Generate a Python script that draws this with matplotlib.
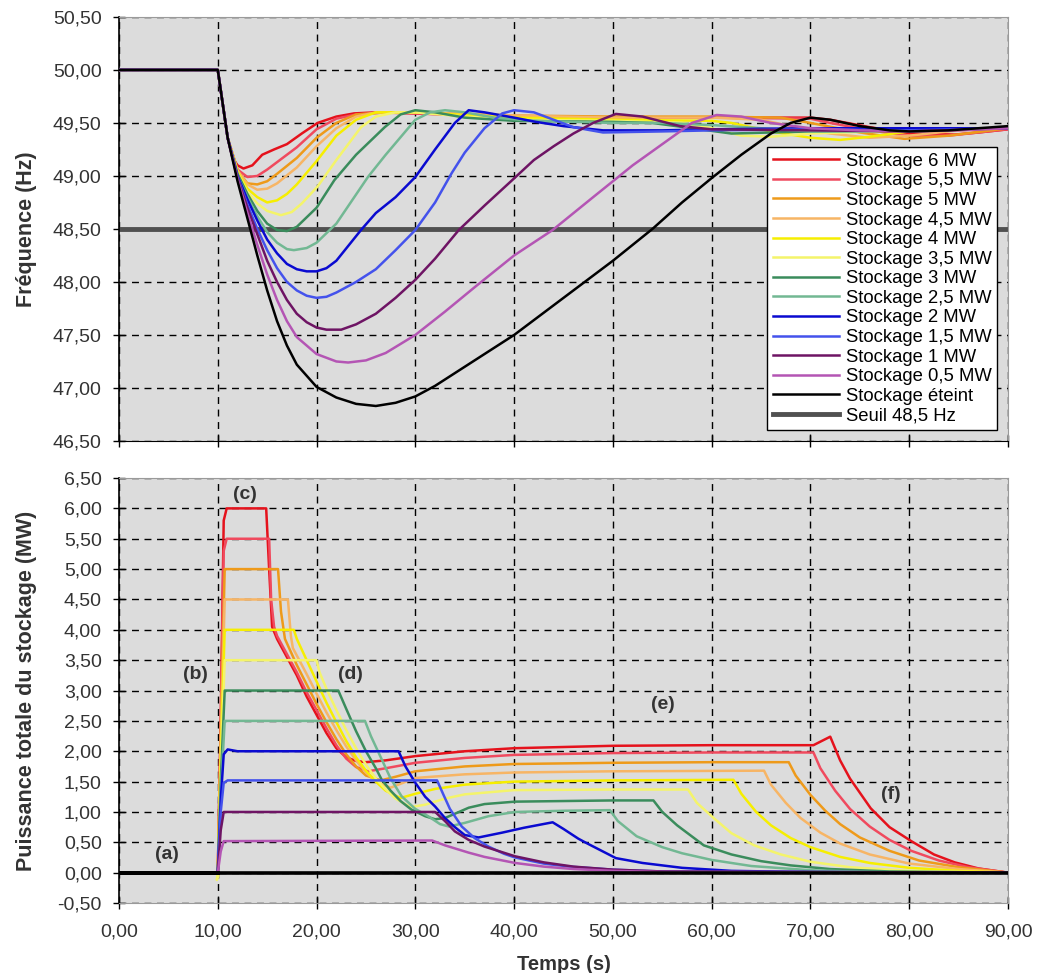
import matplotlib
matplotlib.use("Agg")
import matplotlib.pyplot as plt
from matplotlib.ticker import FuncFormatter, MultipleLocator

plt.rcParams['font.family'] = ['Liberation Sans', 'DejaVu Sans']

# ---- legend labels and colours ----
labels = ["Stockage 6 MW", "Stockage 5,5 MW", "Stockage 5 MW", "Stockage 4,5 MW",
          "Stockage 4 MW", "Stockage 3,5 MW", "Stockage 3 MW", "Stockage 2,5 MW",
          "Stockage 2 MW", "Stockage 1,5 MW", "Stockage 1 MW", "Stockage 0,5 MW",
          "Stockage éteint"]
colors = ["#e5121c", "#f04a5e", "#ee9a1a", "#f7b565", "#f6ee00", "#f4f46a",
          "#3a8c5c", "#72b893", "#0a0ad0", "#4452ec", "#6e1464", "#b455b4", "#000000"]
threshold = 48.5

# ---- frequency (Hz), time points per series ----
t_start = [0, 10, 11]
f_start = [50.0, 50.0, 49.36]

ft_6 = [11.5, 12, 12.6, 13.5, 14.5, 15.7, 17, 18.5, 20.1, 22, 23.8, 26, 30, 40, 50, 60, 70, 72, 76, 80, 84.6, 87, 90]
fv_6 = [49.17, 49.1, 49.07, 49.1, 49.2, 49.25, 49.3, 49.4, 49.5, 49.56, 49.59, 49.6, 49.59, 49.56, 49.55, 49.55, 49.55, 49.53, 49.46, 49.4, 49.39, 49.41, 49.44]
ft_55 = [12, 13, 14, 15, 16, 18, 20, 22, 24, 27, 30, 40, 50, 60, 70, 72, 76, 80, 84, 90]
fv_55 = [49.06, 48.99, 49.0, 49.06, 49.13, 49.27, 49.44, 49.54, 49.58, 49.6, 49.59, 49.56, 49.55, 49.55, 49.54, 49.5, 49.43, 49.38, 49.38, 49.44]
ft_5 = [12, 13, 14, 15, 16, 18, 20, 22, 24, 27, 30, 40, 50, 60, 67, 70, 75, 79.5, 84, 90]
fv_5 = [49.05, 48.93, 48.92, 48.95, 49.02, 49.17, 49.36, 49.5, 49.58, 49.6, 49.6, 49.57, 49.56, 49.56, 49.55, 49.5, 49.41, 49.35, 49.38, 49.45]
ft_45 = [12, 13, 14, 15, 16, 18, 20, 22, 24, 26, 30, 40, 50, 60, 65, 68, 72, 76, 80, 85, 90]
fv_45 = [49.05, 48.92, 48.87, 48.88, 48.93, 49.08, 49.28, 49.45, 49.56, 49.6, 49.6, 49.57, 49.55, 49.55, 49.53, 49.47, 49.4, 49.36, 49.38, 49.43, 49.45]
ft_4 = [12, 13, 14, 15, 16, 17, 18, 20, 22, 24, 26, 30, 40, 50, 60, 62, 66, 70, 73, 76, 80, 90]
fv_4 = [49.04, 48.88, 48.8, 48.75, 48.77, 48.83, 48.92, 49.14, 49.38, 49.53, 49.6, 49.6, 49.55, 49.53, 49.52, 49.5, 49.42, 49.36, 49.34, 49.37, 49.42, 49.45]
ft_35 = [12, 13, 14, 15, 16.4, 17.5, 18.5, 20.1, 22, 24.5, 26, 28, 30, 35, 40, 50, 57, 60, 63, 66, 70, 80, 90]
fv_35 = [49.03, 48.85, 48.74, 48.67, 48.63, 48.66, 48.74, 48.9, 49.15, 49.46, 49.56, 49.6, 49.6, 49.56, 49.53, 49.52, 49.5, 49.45, 49.38, 49.37, 49.4, 49.43, 49.45]
ft_3 = [12, 13, 14, 15, 16, 17, 18, 20, 21.8, 24, 26.9, 28.5, 30, 32, 35, 40, 50, 54, 58, 62, 70, 80, 90]
fv_3 = [49.02, 48.83, 48.67, 48.55, 48.49, 48.48, 48.52, 48.7, 48.96, 49.2, 49.46, 49.58, 49.62, 49.6, 49.55, 49.52, 49.51, 49.5, 49.45, 49.4, 49.42, 49.43, 49.45]
ft_25 = [12, 13, 14, 15, 16, 17, 17.7, 19, 20, 22, 25.2, 27, 29, 30, 31.5, 33, 35, 38, 42, 50, 55, 60, 65, 70, 75, 80, 90]
fv_25 = [49.0, 48.8, 48.62, 48.47, 48.37, 48.31, 48.3, 48.32, 48.37, 48.55, 48.99, 49.2, 49.42, 49.53, 49.6, 49.62, 49.6, 49.55, 49.52, 49.5, 49.5, 49.48, 49.45, 49.42, 49.42, 49.43, 49.45]
ft_2 = [12, 13, 14, 15, 16, 17, 18, 19, 20, 21, 22, 24.5, 26, 28, 30, 32, 34, 35.4, 37, 40, 42.2, 45, 49, 55, 60, 70, 80, 90]
fv_2 = [49.0, 48.78, 48.58, 48.4, 48.27, 48.17, 48.12, 48.1, 48.1, 48.13, 48.2, 48.49, 48.65, 48.8, 48.99, 49.25, 49.5, 49.62, 49.6, 49.55, 49.51, 49.47, 49.43, 49.43, 49.44, 49.45, 49.45, 49.45]
ft_15 = [12, 13, 14, 15, 16, 17, 18, 19, 20, 21, 22, 24, 26, 28, 30, 32, 33.7, 35, 37, 38.8, 40, 42, 44, 46, 49, 55, 60, 70, 80, 90]
fv_15 = [48.99, 48.73, 48.5, 48.3, 48.13, 48.0, 47.92, 47.87, 47.85, 47.86, 47.9, 48.0, 48.12, 48.3, 48.49, 48.75, 49.03, 49.22, 49.45, 49.59, 49.62, 49.6, 49.53, 49.46, 49.41, 49.42, 49.43, 49.44, 49.43, 49.45]
ft_1 = [12, 13, 14, 15, 16, 17, 18, 19, 20, 21, 22.5, 24, 26, 28, 30, 32, 34.4, 37, 39.8, 42, 44, 46, 48, 50.3, 53, 56.8, 60, 70, 80, 90]
fv_1 = [48.98, 48.7, 48.45, 48.2, 48.0, 47.83, 47.7, 47.62, 47.57, 47.55, 47.55, 47.6, 47.7, 47.85, 48.02, 48.22, 48.49, 48.72, 48.96, 49.15, 49.28, 49.4, 49.5, 49.585, 49.56, 49.47, 49.44, 49.43, 49.42, 49.45]
ft_05 = [12, 13, 14, 15, 16, 17, 18, 20, 22, 23.2, 25, 27, 30, 33, 36, 40, 43.9, 48, 52, 55, 58, 60.5, 63, 66, 70, 75, 80, 85, 90]
fv_05 = [48.97, 48.65, 48.35, 48.07, 47.83, 47.63, 47.48, 47.32, 47.25, 47.24, 47.26, 47.33, 47.5, 47.72, 47.95, 48.25, 48.49, 48.8, 49.1, 49.3, 49.5, 49.575, 49.56, 49.5, 49.45, 49.43, 49.42, 49.43, 49.45]
ft_off = [12, 13, 14, 15, 16, 17, 18, 20, 22, 24, 26, 28, 30, 32, 35, 40, 45, 50, 54, 57, 60, 63, 66, 68, 70, 72, 75, 78, 80, 84, 87, 90]
fv_off = [48.95, 48.6, 48.25, 47.92, 47.63, 47.4, 47.22, 47.01, 46.91, 46.85, 46.83, 46.86, 46.92, 47.02, 47.2, 47.5, 47.85, 48.2, 48.5, 48.75, 48.98, 49.2, 49.4, 49.5, 49.55, 49.53, 49.47, 49.43, 49.42, 49.43, 49.45, 49.47]

# ---- storage power (MW) ----
p_start_t = [0, 10]
p_start_v = [0.0, 0.0]

pt_6 = [10.3, 10.6, 10.9, 14.9, 15.2, 15.5, 16, 17, 18, 19, 20, 21, 22, 23, 24, 25, 27, 30, 35, 40, 50, 60, 70.3, 72, 73, 74, 76.1, 78, 80.2, 82.5, 84.6, 87, 90]
pv_6 = [2.5, 5.8, 6.0, 6.0, 5.0, 4.05, 3.85, 3.55, 3.25, 2.9, 2.6, 2.3, 2.05, 1.9, 1.84, 1.82, 1.85, 1.92, 2.0, 2.05, 2.09, 2.1, 2.1, 2.24, 1.85, 1.55, 1.06, 0.75, 0.52, 0.3, 0.17, 0.07, 0.0]
pt_55 = [10.3, 10.6, 10.9, 15.2, 15.4, 15.7, 16, 17, 18, 19, 20, 21, 22, 23, 24, 25.2, 27, 30, 35, 40, 50, 60, 70.3, 71, 72.5, 74, 76, 78, 80.2, 83, 86, 90]
pv_55 = [2.5, 5.3, 5.5, 5.5, 4.5, 4.05, 3.9, 3.6, 3.3, 2.97, 2.68, 2.38, 2.1, 1.88, 1.74, 1.67, 1.72, 1.81, 1.89, 1.94, 1.97, 1.98, 1.98, 1.72, 1.35, 1.05, 0.76, 0.54, 0.36, 0.2, 0.09, 0.0]
pt_5 = [10.3, 10.7, 16.1, 16.4, 16.8, 18, 19, 20, 21, 22, 23, 24, 25, 26.5, 28, 30, 35, 40, 50, 60, 67.8, 68.5, 70, 71.5, 73, 75, 78, 81, 85, 90]
pv_5 = [2.3, 5.0, 5.0, 4.3, 3.85, 3.42, 3.1, 2.78, 2.48, 2.2, 1.95, 1.75, 1.6, 1.52, 1.58, 1.67, 1.75, 1.79, 1.81, 1.82, 1.82, 1.6, 1.28, 1.02, 0.8, 0.58, 0.36, 0.2, 0.09, 0.0]
pt_45 = [10.3, 10.7, 17.1, 17.4, 17.6, 19, 20, 21, 22, 23, 24, 25, 26, 27.5, 30, 35, 40, 50, 65.3, 66, 67.5, 69, 71, 73, 76, 80, 85, 90]
pv_45 = [2.1, 4.5, 4.5, 3.9, 3.7, 3.27, 2.95, 2.64, 2.35, 2.08, 1.85, 1.65, 1.5, 1.4, 1.56, 1.62, 1.65, 1.67, 1.68, 1.45, 1.15, 0.9, 0.66, 0.48, 0.3, 0.15, 0.06, 0.0]
pt_4 = [10.3, 10.7, 17.7, 18, 19, 20, 21, 22, 23, 24, 25, 26, 27, 28.5, 30, 32, 35, 40, 50, 62.2, 63, 64.5, 66, 68, 70, 73, 76, 80, 85, 90]
pv_4 = [1.9, 4.0, 4.0, 3.85, 3.5, 3.15, 2.8, 2.48, 2.17, 1.9, 1.68, 1.5, 1.35, 1.23, 1.3, 1.38, 1.45, 1.5, 1.52, 1.53, 1.3, 1.0, 0.78, 0.57, 0.42, 0.26, 0.16, 0.08, 0.03, 0.0]
pt_35 = [9.9, 10.05, 10.3, 10.7, 20.0, 20.3, 21, 22, 23, 24, 25, 26, 27, 28, 29.5, 31, 33, 35, 40, 50, 57.6, 58.5, 60.2, 62, 64.3, 67, 70, 74, 80, 90]
pv_35 = [-0.12, -0.05, 1.7, 3.5, 3.5, 3.3, 3.03, 2.68, 2.35, 2.05, 1.78, 1.55, 1.37, 1.22, 1.08, 1.12, 1.22, 1.29, 1.36, 1.37, 1.37, 1.15, 0.9, 0.65, 0.45, 0.3, 0.18, 0.09, 0.03, 0.0]
pt_3 = [10.3, 10.7, 22.2, 23, 24, 25, 26, 26.6, 27.5, 28.5, 29.6, 31, 32, 33, 35.4, 37, 40.1, 50, 54.1, 55, 56.5, 59.2, 62, 65, 68, 72, 78, 90]
pv_3 = [1.5, 3.0, 3.0, 2.7, 2.33, 2.0, 1.72, 1.53, 1.35, 1.18, 1.04, 0.93, 0.88, 0.9, 1.07, 1.13, 1.17, 1.19, 1.19, 1.0, 0.78, 0.45, 0.3, 0.19, 0.12, 0.06, 0.02, 0.0]
pt_25 = [10.3, 10.7, 24.9, 25.5, 26.5, 27.5, 28.6, 30, 31.3, 32.5, 33.4, 35, 37.4, 40.1, 45, 49.7, 50.5, 52.4, 55, 57, 60, 64, 70, 76, 90]
pv_25 = [1.3, 2.5, 2.5, 2.25, 1.9, 1.55, 1.26, 1.05, 0.93, 0.8, 0.76, 0.82, 0.93, 1.0, 1.02, 1.03, 0.85, 0.6, 0.42, 0.32, 0.21, 0.11, 0.04, 0.01, 0.0]
pt_2 = [10.3, 10.6, 11, 12, 28.3, 29, 30, 31, 32, 33, 34, 35, 36.4, 38.8, 41, 43.9, 45, 46.5, 47.3, 50.3, 53, 57, 62, 70, 90]
pv_2 = [1.2, 1.95, 2.03, 2.0, 2.0, 1.75, 1.48, 1.25, 1.09, 0.9, 0.75, 0.62, 0.58, 0.66, 0.74, 0.83, 0.72, 0.56, 0.49, 0.24, 0.16, 0.08, 0.03, 0.01, 0.0]
pt_15 = [10.3, 10.6, 11, 32.2, 32.8, 33.5, 34.7, 36, 37.4, 39, 40.1, 43, 45.6, 50, 55, 90]
pv_15 = [1.0, 1.48, 1.52, 1.52, 1.3, 1.05, 0.76, 0.57, 0.43, 0.31, 0.25, 0.15, 0.1, 0.05, 0.02, 0.0]
pt_1 = [10.3, 10.6, 32, 33, 34, 35.4, 37, 40.1, 43, 46, 50, 55, 90]
pv_1 = [0.7, 1.0, 1.0, 0.85, 0.68, 0.54, 0.43, 0.27, 0.17, 0.1, 0.05, 0.02, 0.0]
pt_05 = [10.3, 10.6, 31.7, 33, 35.4, 37, 40.1, 43, 46, 50, 55, 90]
pv_05 = [0.35, 0.52, 0.53, 0.45, 0.33, 0.26, 0.16, 0.1, 0.06, 0.03, 0.01, 0.0]
pt_off = [0, 90]
pv_off = [0.0, 0.0]

freq_series = [(ft_6, fv_6), (ft_55, fv_55), (ft_5, fv_5), (ft_45, fv_45), (ft_4, fv_4),
               (ft_35, fv_35), (ft_3, fv_3), (ft_25, fv_25), (ft_2, fv_2), (ft_15, fv_15),
               (ft_1, fv_1), (ft_05, fv_05), (ft_off, fv_off)]
power_series = [(pt_6, pv_6), (pt_55, pv_55), (pt_5, pv_5), (pt_45, pv_45), (pt_4, pv_4),
                (pt_35, pv_35), (pt_3, pv_3), (pt_25, pv_25), (pt_2, pv_2), (pt_15, pv_15),
                (pt_1, pv_1), (pt_05, pv_05), (pt_off, pv_off)]

# phase markers on the power plot
notes = ["(a)", "(b)", "(c)", "(d)", "(e)", "(f)"]
note_t = [4.85, 7.75, 12.7, 23.45, 55.1, 78.1]
note_p = [0.3, 3.26, 6.23, 3.26, 2.77, 1.28]

fig = plt.figure(figsize=(10.54, 9.73), dpi=100)
ax1 = fig.add_axes([0.1129, 0.5468, 0.8435, 0.4358])
ax2 = fig.add_axes([0.1129, 0.0719, 0.8435, 0.4368])

comma = FuncFormatter(lambda v, pos: f"{v:.2f}".replace(".", ","))


def style_axes(ax):
    ax.set_facecolor("#dcdcdc")
    ax.set_xlim(0, 90)
    ax.xaxis.set_major_locator(MultipleLocator(10))
    ax.yaxis.set_major_locator(MultipleLocator(0.5))
    ax.xaxis.set_major_formatter(comma)
    ax.yaxis.set_major_formatter(comma)
    ax.grid(True, color="black", linestyle=(0, (5, 4)), linewidth=1.0)
    ax.set_axisbelow(True)
    ax.tick_params(direction="inout", length=9, width=1, colors="black",
                   labelcolor="#333333", labelsize=14)
    ax.tick_params(axis="y", pad=8)
    for side in ["top", "right"]:
        ax.spines[side].set_color("#9a9a9a")
    ax.spines["left"].set_linewidth(1.2)


# top: frequency
style_axes(ax1)
ax1.set_ylim(46.5, 50.5)
ax1.tick_params(axis="x", labelbottom=False)
ax1.axhline(threshold, color="#505050", lw=3.5, zorder=2, label="Seuil 48,5 Hz")
for (t, v), lab, c in zip(freq_series, labels, colors):
    ax1.plot(t_start + t, f_start + v, color=c, lw=1.8, label=lab, zorder=3)
handles, labs = ax1.get_legend_handles_labels()
order = list(range(1, len(handles))) + [0]
leg = ax1.legend([handles[i] for i in order], [labs[i] for i in order],
                 loc="lower right", bbox_to_anchor=(0.988, 0.026), fontsize=13.3,
                 frameon=True, fancybox=False, framealpha=1, edgecolor="black",
                 labelspacing=0.14, handlelength=3.6, handletextpad=0.35,
                 borderpad=0.3, borderaxespad=0)
leg.get_frame().set_linewidth(1.0)
ax1.set_ylabel("Fréquence (Hz)", fontsize=15.5, fontweight="bold", color="#333333")
ax1.yaxis.set_label_coords(-0.092, 0.5)

# bottom: storage power
style_axes(ax2)
ax2.set_ylim(-0.5, 6.5)
ax2.spines["bottom"].set_color("#9a9a9a")
for (t, v), lab, c in zip(power_series, labels, colors):
    lw = 2.6 if c == "#000000" else 1.8
    ax2.plot(p_start_t + t, p_start_v + v, color=c, lw=lw, zorder=3)
for txt, tx, py in zip(notes, note_t, note_p):
    ax2.text(tx, py, txt, ha="center", va="center", fontsize=14,
             fontweight="bold", color="#333333", zorder=4)
ax2.set_ylabel("Puissance totale du stockage (MW)", fontsize=15.5,
               fontweight="bold", color="#333333")
ax2.yaxis.set_label_coords(-0.092, 0.5)
ax2.set_xlabel("Temps (s)", fontsize=14.5, fontweight="bold", color="#333333")
ax2.xaxis.set_label_coords(0.5, -0.122)
ax2.tick_params(axis="x", pad=10)

fig.savefig("out.png", dpi=100)
